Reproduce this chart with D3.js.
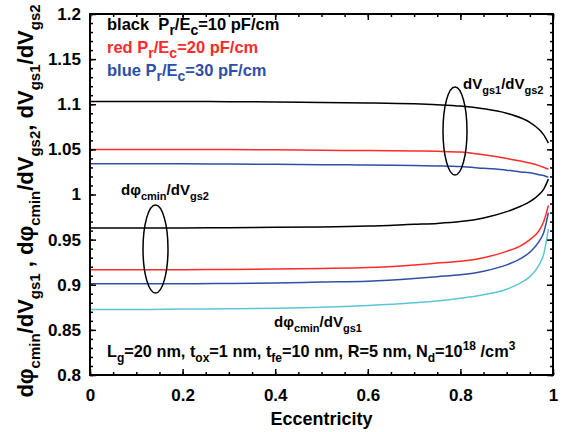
<!DOCTYPE html>
<html><head><meta charset="utf-8">
<script src="https://cdn.jsdelivr.net/npm/d3@7"></script>
<style>body{margin:0;background:#fff}svg{display:block}text{font-family:"Liberation Sans",Arial,sans-serif;font-weight:bold;white-space:pre}</style>
</head><body>
<svg id="c" width="573" height="432"></svg>
<script>
const ecc = [0, 0.1, 0.2, 0.3, 0.4, 0.5, 0.6, 0.7, 0.75, 0.8, 0.85, 0.9, 0.93, 0.95, 0.97, 0.98, 0.99];
const vgsBlack = [1.103, 1.103, 1.103, 1.1028, 1.1025, 1.102, 1.1015, 1.1005, 1.0995, 1.098, 1.095, 1.090, 1.085, 1.080, 1.072, 1.066, 1.057];
const vgsRed   = [1.050, 1.050, 1.050, 1.0498, 1.0495, 1.049, 1.0487, 1.0482, 1.0478, 1.047, 1.044, 1.040, 1.037, 1.035, 1.032, 1.030, 1.028];
const vgsBlue  = [1.034, 1.034, 1.034, 1.0338, 1.0335, 1.033, 1.0327, 1.032, 1.0317, 1.031, 1.029, 1.027, 1.025, 1.024, 1.022, 1.021, 1.019];
const phi2Black = [0.963, 0.963, 0.963, 0.9632, 0.9636, 0.964, 0.965, 0.967, 0.968, 0.970, 0.974, 0.981, 0.987, 0.992, 1.000, 1.006, 1.017];
const phi1Red   = [0.9165, 0.9165, 0.9167, 0.917, 0.9175, 0.918, 0.919, 0.922, 0.924, 0.926, 0.930, 0.937, 0.943, 0.950, 0.960, 0.970, 0.988];
const phi1Blue  = [0.901, 0.901, 0.901, 0.9015, 0.902, 0.903, 0.904, 0.907, 0.909, 0.911, 0.915, 0.922, 0.929, 0.936, 0.948, 0.958, 0.980];
const phi1Cyan  = [0.8725, 0.8725, 0.873, 0.8735, 0.874, 0.875, 0.877, 0.880, 0.882, 0.885, 0.889, 0.895, 0.902, 0.909, 0.922, 0.934, 0.962];
const xTicks = [0, 0.2, 0.4, 0.6, 0.8, 1];
const xTickLabels = ["0", "0.2", "0.4", "0.6", "0.8", "1"];
const yTicks = [0.8, 0.85, 0.9, 0.95, 1, 1.05, 1.1, 1.15, 1.2];
const yTickLabels = ["0.8", "0.85", "0.9", "0.95", "1", "1.05", "1.1", "1.15", "1.2"];

const BLACK = "#000", RED = "#ff2a2a", BLUE = "#2f4fa6", CYAN = "#5cc6d6";
const series = [
  {v: vgsBlack, c: BLACK}, {v: vgsRed, c: RED}, {v: vgsBlue, c: BLUE},
  {v: phi2Black, c: BLACK}, {v: phi1Red, c: RED}, {v: phi1Blue, c: BLUE}, {v: phi1Cyan, c: CYAN}
];

const L = 90, R = 553, T = 14, B = 375;
const x = d3.scaleLinear().domain([0, 1]).range([L, R]);
const y = d3.scaleLinear().domain([0.8, 1.2]).range([B, T]);
const svg = d3.select("#c");

// rich text helper: segments [text, mode] mode: 0 normal, 1 sub, 2 sup
function rich(sel, segs, size, subSize) {
  let state = 0;
  segs.forEach(([t, m]) => {
    const ts = sel.append("tspan").text(t);
    let target = m === 1 ? 0.32 * size : m === 2 ? -0.4 * size : 0;
    const dy = target - state;
    if (dy !== 0) ts.attr("dy", dy);
    state = target;
    ts.attr("font-size", m ? subSize : size);
  });
}

// curves
const line = d3.line().x((d, i) => x(ecc[i])).y(d => y(d)).curve(d3.curveMonotoneX);
svg.append("g").selectAll("path").data(series).join("path")
  .attr("d", d => line(d.v)).attr("fill", "none").attr("stroke", d => d.c).attr("stroke-width", 1.5);

// axes with inward ticks
const minorX = d3.range(0, 1.0001, 0.05);
const minorY = d3.range(0.8, 1.2001, 0.01);
// bottom
svg.append("g").attr("transform", `translate(0,${B})`)
  .call(d3.axisBottom(x).tickValues(minorX).tickSize(-3).tickFormat(""))
  .call(g => g.select(".domain").remove());
svg.append("g").attr("transform", `translate(0,${B})`)
  .call(d3.axisBottom(x).tickValues(xTicks).tickSize(-6).tickPadding(14).tickFormat((d, i) => xTickLabels[i]))
  .call(g => g.select(".domain").remove())
  .call(g => g.selectAll("text").attr("font-size", 17).attr("fill", "#000").attr("font-family", null));
// top
svg.append("g").attr("transform", `translate(0,${T})`)
  .call(d3.axisTop(x).tickValues(minorX).tickSize(-3).tickFormat(""))
  .call(g => g.select(".domain").remove());
svg.append("g").attr("transform", `translate(0,${T})`)
  .call(d3.axisTop(x).tickValues(xTicks).tickSize(-6).tickFormat(""))
  .call(g => g.select(".domain").remove());
// left
svg.append("g").attr("transform", `translate(${L},0)`)
  .call(d3.axisLeft(y).tickValues(minorY).tickSize(-3).tickFormat(""))
  .call(g => g.select(".domain").remove());
svg.append("g").attr("transform", `translate(${L},0)`)
  .call(d3.axisLeft(y).tickValues(yTicks).tickSize(-6).tickPadding(9).tickFormat((d, i) => yTickLabels[i]))
  .call(g => g.select(".domain").remove())
  .call(g => g.selectAll("text").attr("font-size", 17).attr("fill", "#000").attr("font-family", null));
// right
svg.append("g").attr("transform", `translate(${R},0)`)
  .call(d3.axisRight(y).tickValues(minorY).tickSize(-3).tickFormat(""))
  .call(g => g.select(".domain").remove());
svg.append("g").attr("transform", `translate(${R},0)`)
  .call(d3.axisRight(y).tickValues(yTicks).tickSize(-6).tickFormat(""))
  .call(g => g.select(".domain").remove());
svg.selectAll(".tick line").attr("stroke", "#000").attr("stroke-width", 1.5);

// frame
svg.append("rect").attr("x", L).attr("y", T).attr("width", R - L).attr("height", B - T)
  .attr("fill", "none").attr("stroke", "#000").attr("stroke-width", 2);

// axis titles
svg.append("text").attr("x", (L + R) / 2).attr("y", 425).attr("text-anchor", "middle")
  .attr("font-size", 18).text("Eccentricity");
const yl = svg.append("text").attr("transform", "translate(33,201) rotate(-90)").attr("text-anchor", "middle");
rich(yl, [["dφ",0],["cmin",1],["/dV",0],["gs1",1],[" , dφ",0],["cmin",1],["/dV",0],["gs2",1],[", dV",0],["gs1",1],["/dV",0],["gs2",1]], 22, 15);

// legend
const leg = [
  {c: BLACK, segs: [["black\u00a0\u00a0P",0],["r",1],["/E",0],["c",1],["=10 pF/cm",0]], y: 30},
  {c: RED, segs: [["red P",0],["r",1],["/E",0],["c",1],["=20 pF/cm",0]], y: 53},
  {c: BLUE, segs: [["blue P",0],["r",1],["/E",0],["c",1],["=30 pF/cm",0]], y: 76}
];
leg.forEach(l => {
  const t = svg.append("text").attr("x", 107).attr("y", l.y).attr("fill", l.c);
  rich(t, l.segs, 16.5, 14);
});

// annotations
const a1 = svg.append("text").attr("x", 463).attr("y", 89);
rich(a1, [["dV",0],["gs1",1],["/dV",0],["gs2",1]], 15, 11);
const a2 = svg.append("text").attr("x", 121).attr("y", 195);
rich(a2, [["dφ",0],["cmin",1],["/dV",0],["gs2",1]], 15, 11);
const a3 = svg.append("text").attr("x", 274).attr("y", 327);
rich(a3, [["dφ",0],["cmin",1],["/dV",0],["gs1",1]], 15, 11);
const bt = svg.append("text").attr("x", 107).attr("y", 357);
rich(bt, [["L",0],["g",1],["=20 nm, t",0],["ox",1],["=1 nm, t",0],["fe",1],["=10 nm, R=5 nm, N",0],["d",1],["=10",0],["18",2],[" /cm",0],["3",2]], 16.3, 12);

// ellipses
svg.append("ellipse").attr("cx", 455).attr("cy", 131).attr("rx", 12).attr("ry", 44)
  .attr("fill", "none").attr("stroke", "#000").attr("stroke-width", 1.5);
svg.append("ellipse").attr("cx", 155.5).attr("cy", 249).attr("rx", 12.5).attr("ry", 44)
  .attr("fill", "none").attr("stroke", "#000").attr("stroke-width", 1.5);
</script>
</body></html>
